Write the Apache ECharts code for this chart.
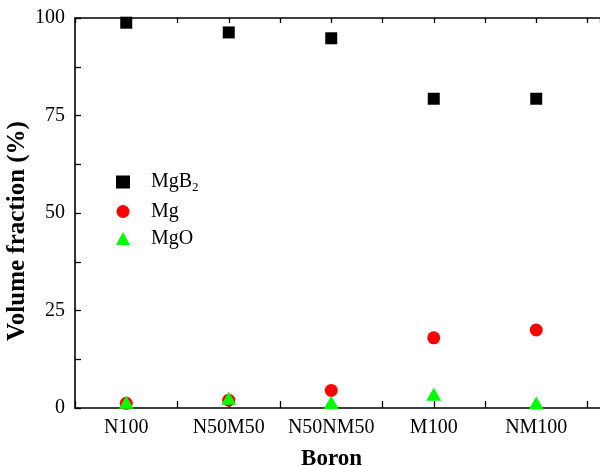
<!DOCTYPE html>
<html>
<head>
<meta charset="utf-8">
<script src="https://cdn.jsdelivr.net/npm/echarts@6/dist/echarts.min.js"></script>
<style>html,body{margin:0;padding:0;background:#fff}#c{width:600px;height:466px}</style>
</head>
<body>
<div id="c"></div>
<script>
var categories = ['N100', 'N50M50', 'N50NM50', 'M100', 'NM100'];
var mgb2 = [98.8, 96.3, 94.8, 79.3, 79.3];
var mg = [1.2, 2.0, 4.5, 18.0, 20.0];
var mgo = [1.5, 2.5, 1.4, 3.5, 1.3];
var yTicks = [0, 25, 50, 75, 100];

function pts(arr) { return arr.map(function (v, i) { return [i + 1, v]; }); }
var FF = 'Liberation Serif, Times New Roman, serif';
var chart = echarts.init(document.getElementById('c'), null, {renderer: 'canvas'});
var axLine = {show: true, lineStyle: {color: '#000', width: 1.6}};
chart.setOption({
  animation: false,
  backgroundColor: '#fff',
  grid: {left: 75, top: 18, right: 0, bottom: 58, containLabel: false, outerBoundsMode: 'none'},
  legend: {
    orient: 'vertical', left: 111, top: 167,
    itemWidth: 14, itemHeight: 13, itemGap: 7,
    data: [{name: 'MgB2', icon: 'rect'}, {name: 'Mg', icon: 'circle'}, {name: 'MgO', icon: 'triangle'}],
    formatter: function (n) { return n === 'MgB2' ? '{n|MgB}{s|2}' : '{n|' + n + '}'; },
    textStyle: {
      rich: {
        n: {fontFamily: FF, fontSize: 20, color: '#000', padding: [0, 0, 0, 16]},
        s: {fontFamily: FF, fontSize: 13, color: '#000', verticalAlign: 'bottom', padding: [12, 0, 0, 0]}
      }
    }
  },
  xAxis: [{
    type: 'value', min: 0.5, max: 0.5 + 525 / 102.5, interval: 0.5,
    axisLine: axLine,
    axisTick: {show: true, inside: true, length: 7, lineStyle: {color: '#000', width: 1.3}},
    splitLine: {show: false},
    axisLabel: {
      fontFamily: FF, fontSize: 20, color: '#000', margin: 10, showMaxLabel: false,
      formatter: function (v) { return Number.isInteger(v) && categories[v - 1] ? categories[v - 1] : ''; }
    },
    name: 'Boron', nameLocation: 'middle', nameGap: 40, nameMoveOverlap: false,
    nameTextStyle: {fontFamily: FF, fontSize: 23, fontWeight: 'bold', color: '#000', padding: [0, 12, 0, 0]}
  }, {
    type: 'value', position: 'top', min: 0.5, max: 0.5 + 525 / 102.5, interval: 0.5,
    axisLine: axLine,
    axisTick: {show: true, inside: true, length: 5, lineStyle: {color: '#000', width: 1.3}},
    splitLine: {show: false},
    axisLabel: {show: false}
  }],
  yAxis: {
    type: 'value', min: 0, max: 100, interval: 25,
    axisLine: axLine,
    axisTick: {show: true, inside: true, length: 6, lineStyle: {color: '#000', width: 1.3}},
    minorTick: {show: true, splitNumber: 2, length: 6, lineStyle: {color: '#000', width: 1.3}},
    splitLine: {show: false},
    axisLabel: {
      fontFamily: FF, fontSize: 20, color: '#000', margin: 10,
      formatter: function (v) { return yTicks.indexOf(v) >= 0 ? String(v) : ''; }
    },
    name: 'Volume fraction (%)', nameLocation: 'middle', nameGap: 45, nameRotate: 90, nameMoveOverlap: false,
    nameTextStyle: {fontFamily: FF, fontSize: 25, fontWeight: 'bold', color: '#000', padding: [0, 36, 0, 0]}
  },
  series: [
    {name: 'MgB2', type: 'scatter', symbol: 'rect', symbolSize: 12, data: pts(mgb2), itemStyle: {color: '#000', opacity: 1}},
    {name: 'Mg', type: 'scatter', symbol: 'circle', symbolSize: 13, data: pts(mg), itemStyle: {color: '#ff0000', opacity: 1}},
    {name: 'MgO', type: 'scatter', symbol: 'triangle', symbolSize: [15, 13], data: pts(mgo), itemStyle: {color: '#00ff00', opacity: 1}}
  ]
});
</script>
</body>
</html>
